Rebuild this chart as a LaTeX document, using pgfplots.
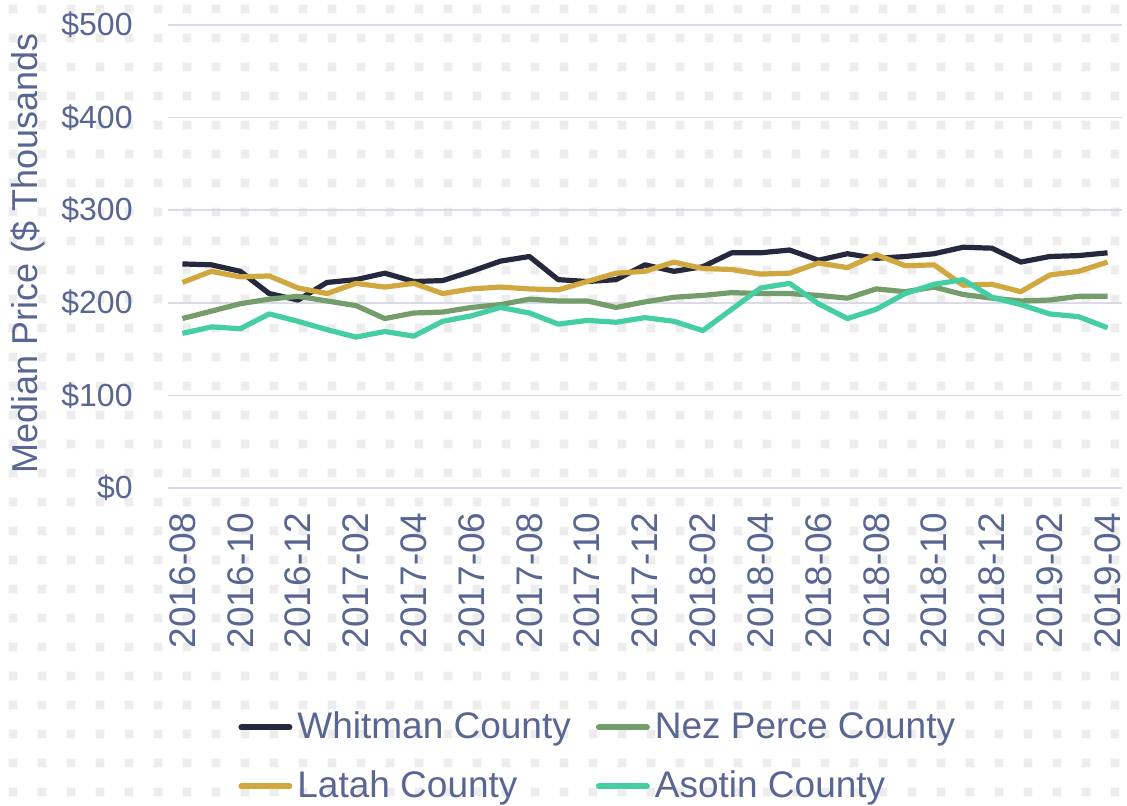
\documentclass[border=0pt]{standalone}
\usepackage{pgfplots}
\pgfplotsset{compat=1.18}
\usepackage{pgfplotstable}
\usepackage{fontspec}
\setmainfont{Liberation Sans}
\usetikzlibrary{patterns}
\definecolor{txt}{RGB}{89,102,145}
\definecolor{gridc}{RGB}{217,218,228}
\definecolor{whit}{RGB}{38,41,61}
\definecolor{nez}{RGB}{117,157,108}
\definecolor{lat}{RGB}{209,167,64}
\definecolor{aso}{RGB}{69,206,164}
\pgfdeclarepatternformonly{bgdots}{\pgfqpoint{0pt}{0pt}}{\pgfqpoint{14.5pt}{14.5pt}}{\pgfqpoint{14.5pt}{14.5pt}}{\pgfpathrectangle{\pgfqpoint{5pt}{5pt}}{\pgfqpoint{4.5pt}{4.5pt}}\pgfusepath{fill}}

\pgfplotstableread{
i  w   n   l   a
0  242 183 222 167
1  241 191 234 174
2  234 199 228 172
3  210 204 229 188
4  203 207 216 180
5  222 202 210 171
6  225 197 221 163
7  232 183 217 169
8  223 189 221 164
9  224 190 210 180
10 234 195 215 186
11 245 198 217 195
12 250 204 215 189
13 225 202 214 177
14 223 202 223 181
15 225 195 232 179
16 241 201 234 184
17 234 206 244 180
18 239 208 237 170
19 254 211 236 193
20 254 210 231 216
21 257 210 232 221
22 246 208 243 199
23 253 205 238 183
24 248 215 252 193
25 250 212 240 210
26 253 217 241 220
27 260 209 219 225
28 259 205 220 206
29 244 202 212 198
30 250 203 230 188
31 251 207 234 185
32 254 207 244 173
}\data

\begin{document}
\begin{tikzpicture}
\path[use as bounding box] (-84pt,-158.5pt) rectangle (479.5pt,244pt);
\fill[pattern=bgdots, pattern color=black!7] (-84pt,-158.5pt) rectangle (479.5pt,244pt);
\begin{axis}[
  at={(0,0)}, anchor=south west, scale only axis,
  width=477pt, height=231.5pt,
  xmin=-0.5, xmax=32.5, ymin=0, ymax=500,
  axis line style={draw=none},
  tick style={draw=none},
  ytick={0,100,...,500},
  ymajorgrids,
  major grid style={gridc, line width=0.75pt},
  /pgf/number format/assume math mode=true,
  yticklabel={\$\pgfmathprintnumber{\tick}},
  yticklabel style={font=\fontsize{16}{16}\selectfont, text=txt, anchor=east, inner sep=0pt, xshift=-17.5pt},
  xtick={0,2,...,32},
  xticklabels={2016-08,2016-10,2016-12,2017-02,2017-04,2017-06,2017-08,2017-10,2017-12,2018-02,2018-04,2018-06,2018-08,2018-10,2018-12,2019-02,2019-04},
  xticklabel style={font=\fontsize{18.5}{18.5}\selectfont, text=txt, yshift=-12pt, rotate=90, anchor=east, inner sep=0pt},
  ylabel={Median Price (\$ Thousands},
  ylabel style={at={(axis description cs:-0.1468,0.507)}, anchor=center, font=\fontsize{18}{18}\selectfont, text=txt},
  legend columns=2,
  legend cell align=left,
  legend style={at={(axis description cs:0.0734,-0.4795)}, anchor=north west, draw=none, fill=none, inner sep=0pt,
    font=\fontsize{18.5}{18.5}\selectfont, text=txt, row sep=12.5pt,
    nodes={inner sep=0pt, text height=14pt, text depth=3pt},
    /tikz/every odd column/.append style={column sep=2.5pt},
    /tikz/every even column/.append style={column sep=12.5pt}},
  legend image code/.code={\draw[#1, line width=3pt, line cap=round] (1.5pt,0pt) -- (25.5pt,0pt);},
]
\addplot[whit, line width=2.6pt, line join=round] table[x=i, y=w] {\data};
\addlegendentry{Whitman County}
\addplot[nez, line width=2.6pt, line join=round] table[x=i, y=n] {\data};
\addlegendentry{Nez Perce County}
\addplot[lat, line width=2.6pt, line join=round] table[x=i, y=l] {\data};
\addlegendentry{Latah County}
\addplot[aso, line width=2.6pt, line join=round] table[x=i, y=a] {\data};
\addlegendentry{Asotin County}
\end{axis}
\end{tikzpicture}
\end{document}
